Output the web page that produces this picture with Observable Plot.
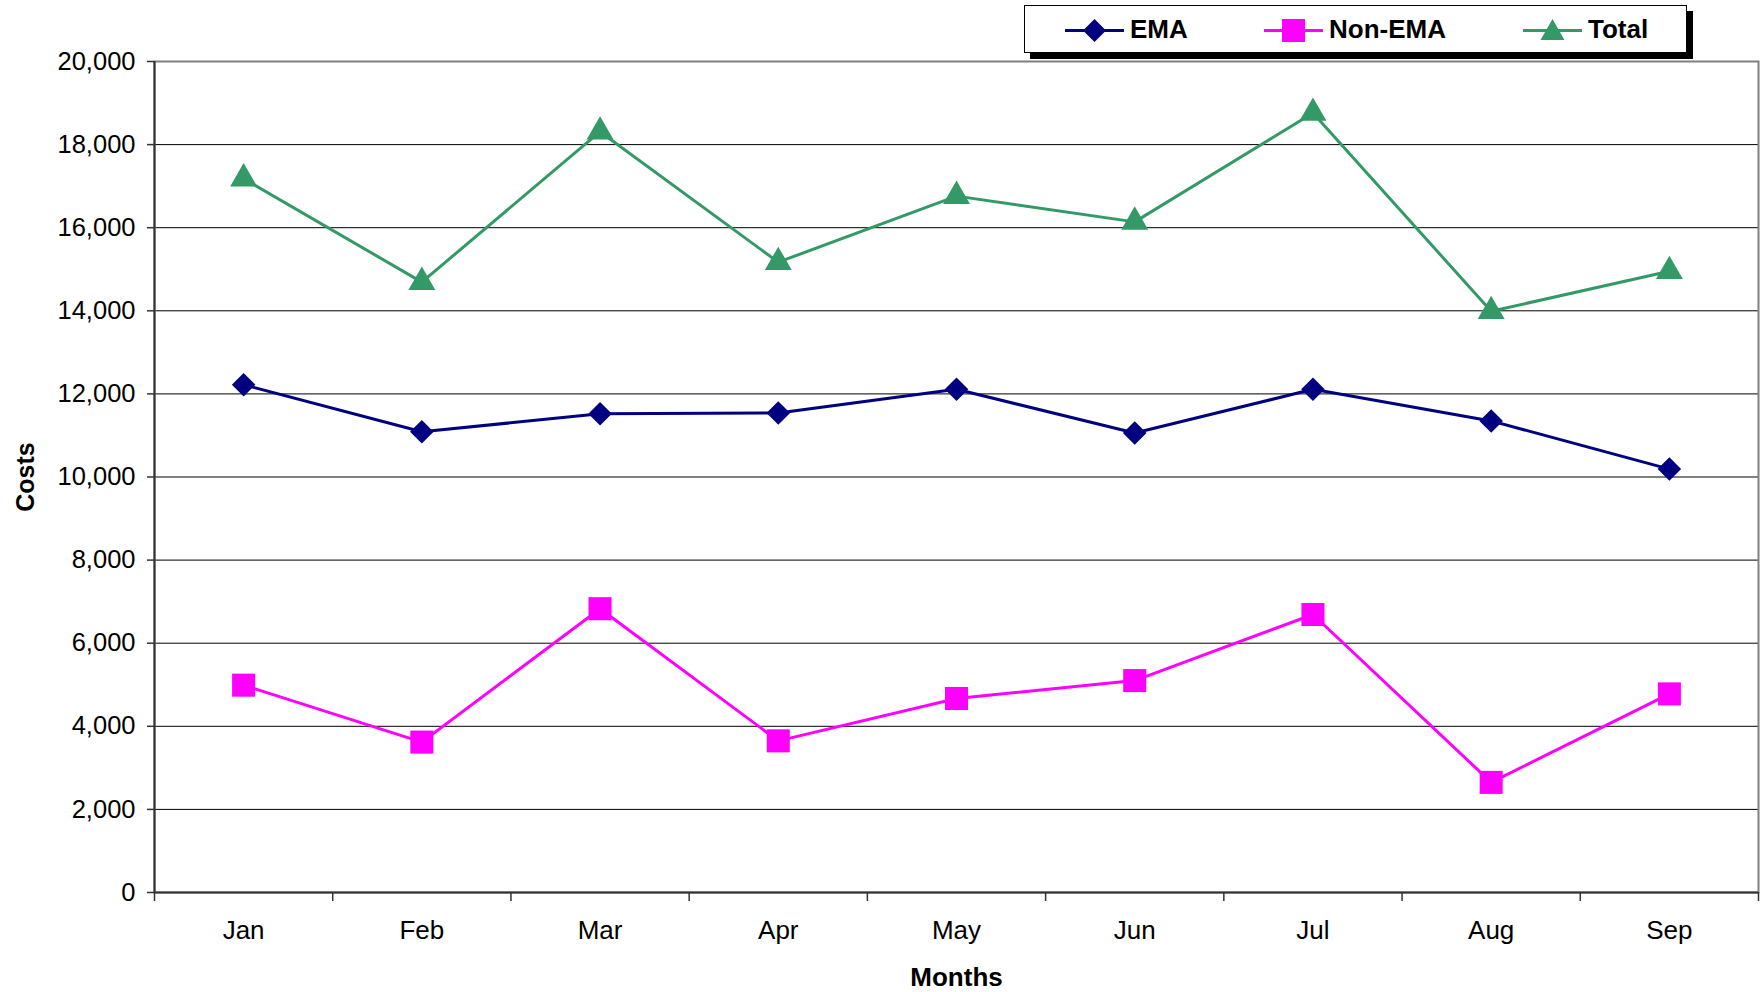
<!DOCTYPE html>
<html>
<head>
<meta charset="utf-8">
<script src="https://cdn.jsdelivr.net/npm/d3@7"></script>
<script src="https://cdn.jsdelivr.net/npm/@observablehq/plot@0.6"></script>
<style>
  html, body { margin: 0; padding: 0; background: #fff; }
  #wrap { position: relative; width: 1760px; height: 992px; font-family: "Liberation Sans", Arial, sans-serif; }
  #legend { position: absolute; left: 1024px; top: 5px; width: 661px; height: 46px; border: 1px solid #000; background: #fff; box-shadow: 6px 6px 0 #000; }
  .item { position: absolute; top: 0; height: 46px; display: flex; align-items: center; }
  .item svg { display: block; }
  .item span { font-weight: bold; font-size: 26px; color: #000; margin-left: 6px; }
</style>
</head>
<body>
<div id="wrap">
  <div id="chart"></div>
  <div id="legend"></div>
</div>
<script>
const months = ["Jan", "Feb", "Mar", "Apr", "May", "Jun", "Jul", "Aug", "Sep"];
const ema    = [12220, 11090, 11520, 11540, 12110, 11060, 12110, 11350, 10190];
const nonEma = [4990, 3620, 6830, 3650, 4670, 5100, 6690, 2650, 4780];
const total  = [17180, 14690, 18310, 15170, 16760, 16140, 18760, 13990, 14950];
const seriesNames = ["EMA", "Non-EMA", "Total"];
const seriesColors = ["#000080", "#FF00FF", "#339966"];
const yTicks = d3.range(0, 20001, 2000);

const rows = (vals) => vals.map((v, i) => ({x: i + 0.5, month: months[i], value: v}));
const emaRows = rows(ema), nonRows = rows(nonEma), totRows = rows(total);

const plot = Plot.plot({
  width: 1760,
  height: 992,
  marginTop: 61,
  marginLeft: 154,
  marginRight: 2,
  marginBottom: 100,
  style: {fontFamily: "Liberation Sans, Arial, sans-serif", background: "#fff", color: "#000"},
  x: {domain: [0, months.length]},
  y: {domain: [0, 20000]},
  marks: [
    Plot.gridY(yTicks, {stroke: "#000", strokeOpacity: 1, strokeWidth: 1}),
    Plot.frame({stroke: "#808080", strokeWidth: 2}),
    Plot.ruleX([0], {stroke: "#333", strokeWidth: 2}),
    Plot.ruleY([0], {stroke: "#333", strokeWidth: 2}),
    Plot.axisY({ticks: yTicks, tickFormat: d3.format(","), tickSize: 7, tickPadding: 12, fontSize: 25.5, label: null, stroke: "#333", strokeWidth: 1.5}),
    Plot.axisX({ticks: d3.range(months.length).map(i => i + 0.5), tickFormat: (d) => months[Math.floor(d)], tickSize: 0, tickPadding: 28, fontSize: 26, label: null}),
    Plot.axisX({ticks: d3.range(months.length + 1), tickFormat: () => "", tickSize: 9, label: null, stroke: "#333", strokeWidth: 1.5}),
    Plot.text(["Costs"], {frameAnchor: "left", dx: -129, rotate: -90, textAnchor: "middle", lineAnchor: "middle", fontSize: 25, fontWeight: "bold", fill: "#000"}),
    Plot.text(["Months"], {frameAnchor: "bottom", dy: 85, textAnchor: "middle", lineAnchor: "middle", fontSize: 26, fontWeight: "bold", fill: "#000"}),
    Plot.line(totRows, {x: "x", y: "value", stroke: seriesColors[2], strokeWidth: 3}),
    Plot.line(emaRows, {x: "x", y: "value", stroke: seriesColors[0], strokeWidth: 3}),
    Plot.line(nonRows, {x: "x", y: "value", stroke: seriesColors[1], strokeWidth: 3}),
    Plot.dot(totRows, {x: "x", y: "value", symbol: "triangle", r: 10, fill: seriesColors[2], stroke: null}),
    Plot.dot(emaRows, {x: "x", y: "value", symbol: "diamond2", r: 10.6, fill: seriesColors[0], stroke: null}),
    Plot.dot(nonRows, {x: "x", y: "value", symbol: "square", r: 13, fill: seriesColors[1], stroke: null})
  ]
});
document.getElementById("chart").appendChild(plot);

// Legend
const legend = document.getElementById("legend");
const offsets = [40, 239, 498];
const shapes = [
  '<polygon points="29.5,13 41,24.5 29.5,36 18,24.5" />',
  '<rect x="18" y="13" width="23" height="23" />',
  '<polygon points="29.5,13 41.5,34 17.5,34" />'
];
seriesNames.forEach((name, i) => {
  const d = document.createElement("div");
  d.className = "item";
  d.style.left = offsets[i] + "px";
  d.innerHTML = `<svg width="59" height="46"><line x1="0" x2="59" y1="24.5" y2="24.5" stroke="${seriesColors[i]}" stroke-width="3"/><g fill="${seriesColors[i]}">${shapes[i]}</g></svg><span>${name}</span>`;
  legend.appendChild(d);
});
</script>
</body>
</html>
